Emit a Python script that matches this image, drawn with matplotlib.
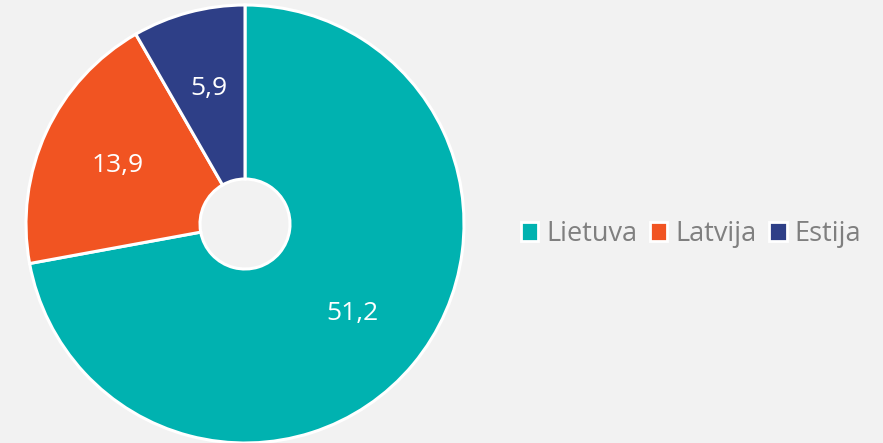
import matplotlib
matplotlib.use("Agg")
import matplotlib.pyplot as plt
from matplotlib.patches import Patch

labels = ["Lietuva", "Latvija", "Estija"]
values = [51.2, 13.9, 5.9]
colors = ["#00b2b0", "#f15422", "#2e3f87"]

plt.rcParams['font.family'] = ['Open Sans', 'DejaVu Sans']

fig = plt.figure(figsize=(8.83, 4.43), dpi=100)
fig.patch.set_facecolor("#f2f2f2")
ax = fig.add_axes([26/883, 0/443, 438/883, 438/443])
ax.set_facecolor("#f2f2f2")

def fmt(p):
    v = p * sum(values) / 100
    return f"{v:.1f}".replace(".", ",")

wedges, texts, autotexts = ax.pie(
    values, colors=colors, startangle=90, counterclock=False,
    autopct=fmt, pctdistance=0.64,
    wedgeprops=dict(width=1 - 45/219, edgecolor="white", linewidth=2.2),
    textprops=dict(color="white", fontsize=19), radius=1.0)
ax.set_aspect("equal")
ax.set_xlim(-1.0, 1.0)
ax.set_ylim(-1.0, 1.0)
ax.axis("off")

handles = [Patch(facecolor=c, edgecolor="white", linewidth=2) for c in colors]
leg = fig.legend(handles, labels, loc="center", bbox_to_anchor=(691/883, 1 - 234/443),
                 ncol=3, frameon=False, fontsize=19.5, handlelength=0.65, handleheight=0.65,
                 handletextpad=0.3, columnspacing=0.45)
for t in leg.get_texts():
    t.set_color("#7f7f7f")

fig.savefig("out.png", dpi=100, facecolor=fig.get_facecolor())
